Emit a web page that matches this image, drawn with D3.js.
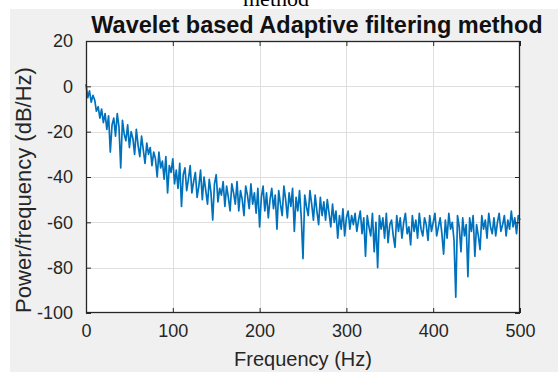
<!DOCTYPE html>
<html>
<head>
<meta charset="utf-8">
<script src="https://cdn.jsdelivr.net/npm/d3@7"></script>
<style>
  html, body { margin: 0; padding: 0; background: #fff; }
  svg { display: block; }
</style>
</head>
<body>
<svg id="chart" width="558" height="372"></svg>
<script>
// PSD estimate, 2 Hz spacing from 0 to 500 Hz (dB/Hz)
const freqStep = 2;
const psd = [
  1, -5, -2, -7, -4, -6, -11, -9, -14, -10,
  -16, -12, -19, -13, -29, -17, -14, -22, -12, -18,
  -36, -15, -21, -24, -17, -27, -20, -23, -30, -19,
  -26, -31, -22, -28, -34, -25, -30, -27, -35, -29,
  -32, -40, -29, -36, -33, -41, -31, -47, -35, -38,
  -32, -43, -37, -45, -34, -53, -39, -36, -46, -41,
  -35, -47, -42, -38, -49, -44, -37, -50, -40, -46,
  -52, -41, -47, -59, -43, -39, -51, -45, -48, -42,
  -53, -44, -49, -55, -43, -47, -52, -42, -55, -46,
  -50, -57, -44, -48, -54, -43, -52, -47, -56, -45,
  -62, -49, -44, -55, -47, -58, -50, -45, -54, -48,
  -63, -46, -52, -57, -44, -50, -58, -47, -53, -45,
  -64, -49, -55, -46, -58, -76, -48, -53, -57, -46,
  -52, -59, -48, -55, -61, -49, -57, -51, -59, -50,
  -56, -62, -52, -60, -55, -67, -57, -63, -54, -66,
  -58, -55, -63, -57, -61, -56, -64, -59, -55, -65,
  -58, -75, -57, -62, -66, -56, -73, -60, -80, -57,
  -63, -58, -67, -56, -69, -61, -59, -66, -71, -57,
  -64, -58, -67, -60, -56, -65, -62, -70, -57, -64,
  -59, -67, -56, -63, -66, -58, -61, -68, -57, -64,
  -60, -56, -66, -62, -58, -65, -74, -59, -67, -56,
  -63, -60, -68, -93, -57, -62, -73, -58, -66, -61,
  -84, -58, -64, -57, -75, -61, -66, -72, -57, -63,
  -59, -67, -56, -62, -65, -58, -66, -60, -56, -64,
  -61, -57, -66, -59, -63, -55, -62, -58, -65, -57,
  -59
];
const xTicks = [0, 100, 200, 300, 400, 500];
const yTicks = [20, 0, -20, -40, -60, -80, -100];

const svg = d3.select("#chart");
const plotL = 86, plotR = 520, plotT = 41, plotB = 313;

// figure background
svg.append("rect")
  .attr("x", 10).attr("y", 9)
  .attr("width", 548).attr("height", 363)
  .attr("fill", "#f0f0f0");

// cut-off caption from the page above
svg.append("text")
  .attr("x", 276).attr("y", 6)
  .attr("text-anchor", "middle")
  .attr("font-family", "Liberation Serif, Times New Roman, serif")
  .attr("font-size", 22)
  .attr("fill", "#000")
  .text("method");

const x = d3.scaleLinear().domain([0, 500]).range([plotL, plotR]);
const y = d3.scaleLinear().domain([-100, 20]).range([plotB, plotT]);

svg.append("rect")
  .attr("x", plotL).attr("y", plotT)
  .attr("width", plotR - plotL).attr("height", plotB - plotT)
  .attr("fill", "#fff");

// grid
const grid = svg.append("g").attr("stroke", "#dfdfdf").attr("stroke-width", 1);
grid.selectAll("line.vx").data(xTicks.slice(1, -1)).enter().append("line")
  .attr("x1", d => Math.round(x(d)) + 0.5).attr("x2", d => Math.round(x(d)) + 0.5)
  .attr("y1", plotT).attr("y2", plotB);
grid.selectAll("line.hy").data(yTicks.slice(1, -1)).enter().append("line")
  .attr("y1", d => Math.round(y(d)) + 0.5).attr("y2", d => Math.round(y(d)) + 0.5)
  .attr("x1", plotL).attr("x2", plotR);

// trace
const data = psd.map((v, i) => ({f: i * freqStep, p: v}));
svg.append("path")
  .datum(data)
  .attr("fill", "none")
  .attr("stroke", "#0072bd")
  .attr("stroke-width", 1.7)
  .attr("stroke-linejoin", "round")
  .attr("d", d3.line().x(d => x(d.f)).y(d => y(d.p)));

// axes (MATLAB style: ticks inside, box on)
const tickLen = 5;
const font = "Liberation Sans, Arial, Helvetica, sans-serif";
const axCol = "#262626";
const plain = d => String(d);

svg.append("g")
  .attr("transform", "translate(0," + plotB + ")")
  .call(d3.axisBottom(x).tickValues(xTicks).tickSize(-tickLen).tickPadding(tickLen + 6).tickFormat(plain))
  .call(g => g.select(".domain").remove())
  .call(g => g.selectAll("line").attr("stroke", axCol))
  .call(g => g.selectAll("text").attr("font-family", font).attr("font-size", 18).attr("fill", axCol));

svg.append("g")
  .attr("transform", "translate(0," + plotT + ")")
  .call(d3.axisTop(x).tickValues(xTicks).tickSize(-tickLen).tickFormat(""))
  .call(g => g.select(".domain").remove())
  .call(g => g.selectAll("line").attr("stroke", axCol));

svg.append("g")
  .attr("transform", "translate(" + plotL + ",0)")
  .call(d3.axisLeft(y).tickValues(yTicks).tickSize(-tickLen).tickPadding(tickLen + 8).tickFormat(plain))
  .call(g => g.select(".domain").remove())
  .call(g => g.selectAll("line").attr("stroke", axCol))
  .call(g => g.selectAll("text").attr("font-family", font).attr("font-size", 18).attr("fill", axCol));

svg.append("g")
  .attr("transform", "translate(" + plotR + ",0)")
  .call(d3.axisRight(y).tickValues(yTicks).tickSize(-tickLen).tickFormat(""))
  .call(g => g.select(".domain").remove())
  .call(g => g.selectAll("line").attr("stroke", axCol));

svg.append("rect")
  .attr("x", plotL + 0.5).attr("y", plotT + 0.5)
  .attr("width", plotR - plotL - 1).attr("height", plotB - plotT - 1)
  .attr("fill", "none").attr("stroke", axCol).attr("stroke-width", 1.3);

// labels
svg.append("text")
  .attr("x", 317).attr("y", 33)
  .attr("text-anchor", "middle")
  .attr("font-family", font).attr("font-size", 23.5).attr("font-weight", "bold")
  .attr("fill", "#111")
  .text("Wavelet based Adaptive filtering method");

svg.append("text")
  .attr("x", (plotL + plotR) / 2).attr("y", 366)
  .attr("text-anchor", "middle")
  .attr("font-family", font).attr("font-size", 20)
  .attr("fill", axCol)
  .text("Frequency (Hz)");

svg.append("text")
  .attr("transform", "translate(31,190) rotate(-90)")
  .attr("text-anchor", "middle")
  .attr("font-family", font).attr("font-size", 22)
  .attr("fill", axCol)
  .text("Power/frequency (dB/Hz)");
</script>
</body>
</html>
